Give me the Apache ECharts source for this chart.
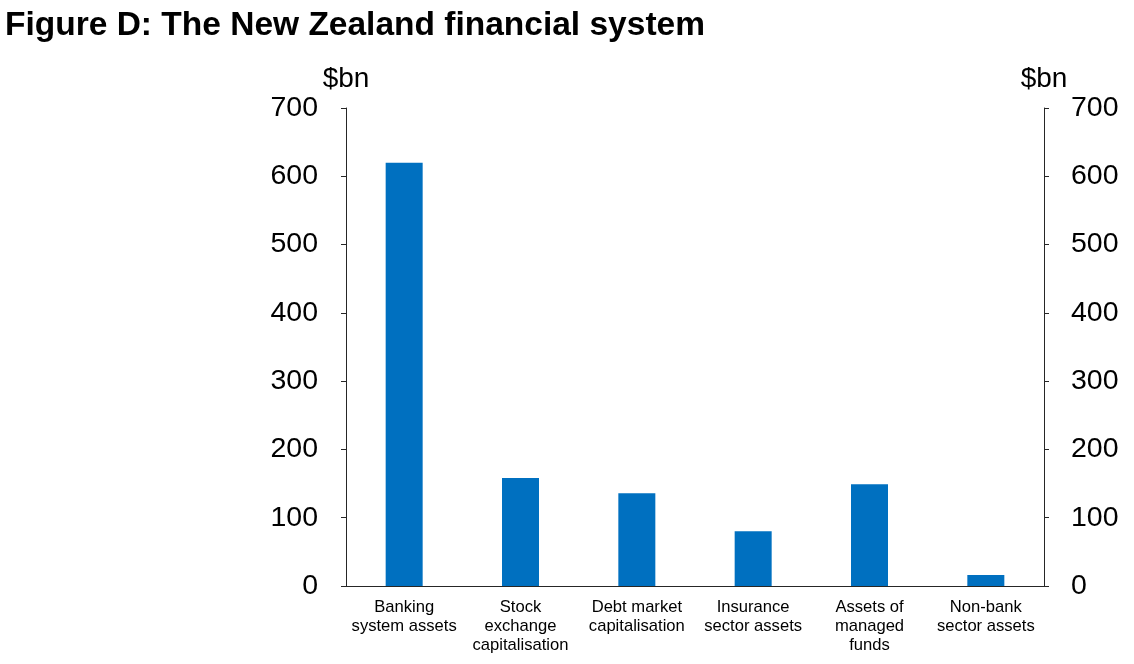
<!DOCTYPE html>
<html>
<head>
<meta charset="utf-8">
<script src="https://cdn.jsdelivr.net/npm/echarts@6/dist/echarts.min.js"></script>
<style>html,body{margin:0;padding:0;background:#fff;}#c{width:1134px;height:664px;}</style>
</head>
<body>
<div id="c"></div>
<script>
const categories = ['Banking\nsystem assets', 'Stock\nexchange\ncapitalisation', 'Debt market\ncapitalisation', 'Insurance\nsector assets', 'Assets of\nmanaged\nfunds', 'Non-bank\nsector assets'];
const values = [620, 158, 136, 80, 149, 16];
const yTicks = [0, 100, 200, 300, 400, 500, 600, 700];

const chart = echarts.init(document.getElementById('c'));
const axisColor = '#262626';
const yAxisCommon = {
  type: 'value', min: yTicks[0], max: yTicks[yTicks.length - 1], interval: 100,
  name: '$bn', nameLocation: 'end', nameGap: 7,
  nameTextStyle: { fontFamily: 'Liberation Sans', fontSize: 28, color: '#000', align: 'center' },
  axisLine: { show: true, lineStyle: { color: axisColor, width: 1 } },
  axisTick: { show: true, length: 5, lineStyle: { color: axisColor } },
  axisLabel: { fontFamily: 'Liberation Sans', fontSize: 28.5, color: '#000', margin: 28 },
  splitLine: { show: false }
};
chart.setOption({
  animation: false,
  title: {
    text: 'Figure D: The New Zealand financial system',
    left: 0, top: 4,
    textStyle: { fontFamily: 'Liberation Sans, Arial', fontWeight: 'bold', fontSize: 33.5, color: '#000' }
  },
  grid: { left: 346, right: 90, top: 108, bottom: 78, containLabel: false },
  xAxis: {
    type: 'category', data: categories,
    axisLine: { show: true, lineStyle: { color: axisColor, width: 1 } },
    axisTick: { show: false },
    axisLabel: { fontFamily: 'Liberation Sans', fontSize: 16.6, color: '#000', lineHeight: 18.8, margin: 12, interval: 0 }
  },
  yAxis: [
    Object.assign({}, yAxisCommon, { position: 'left' }),
    Object.assign({}, yAxisCommon, { position: 'right', axisLabel: Object.assign({}, yAxisCommon.axisLabel, { margin: 27 }) })
  ],
  series: [{
    type: 'bar', data: values, barWidth: 37, yAxisIndex: 0,
    itemStyle: { color: '#0070C0' }
  }]
});
</script>
</body>
</html>
